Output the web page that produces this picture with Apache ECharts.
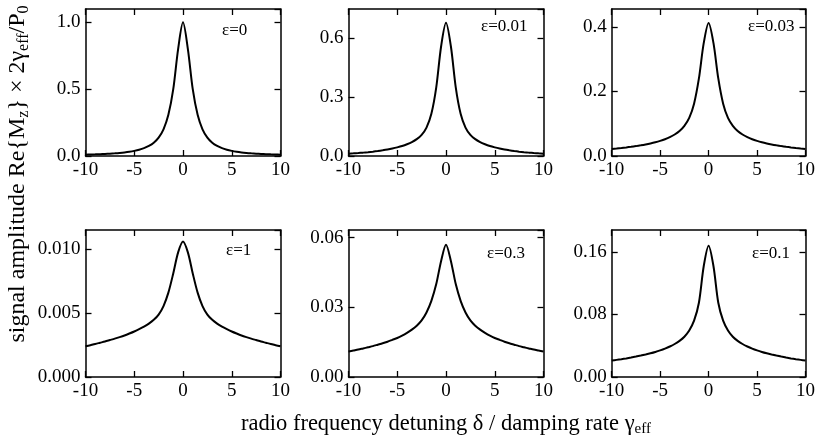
<!DOCTYPE html>
<html><head><meta charset="utf-8">
<script src="https://cdn.jsdelivr.net/npm/echarts@6/dist/echarts.min.js"></script>
<style>html,body{margin:0;padding:0;background:#fff}#c{width:818px;height:440px}</style>
</head><body><div id="c"></div>
<script>
// shared detuning values delta / gamma_eff (step 0.5)
const detuning = [-10,-9.5,-9,-8.5,-8,-7.5,-7,-6.5,-6,-5.5,-5,-4.5,-4,-3.5,-3,-2.5,-2,-1.5,-1,-0.5,0,
                  0.5,1,1.5,2,2.5,3,3.5,4,4.5,5,5.5,6,6.5,7,7.5,8,8.5,9,9.5,10];
const xTicks = [-10,-5,0,5,10];
// signal amplitude values, one array per epsilon
const eps0   = [0.0099,0.0110,0.0122,0.0137,0.0154,0.0175,0.0200,0.0231,0.0270,0.0320,0.0385,0.0470,0.0588,0.0755,0.1000,0.1380,0.2000,0.3080,0.5000,0.8000,1.0000,
                0.8000,0.5000,0.3080,0.2000,0.1380,0.1000,0.0755,0.0588,0.0470,0.0385,0.0320,0.0270,0.0231,0.0200,0.0175,0.0154,0.0137,0.0122,0.0110,0.0099];
const eps001 = [0.0120,0.0135,0.0152,0.0172,0.0195,0.0222,0.0253,0.0289,0.0330,0.0380,0.0440,0.0510,0.0600,0.0710,0.0860,0.1080,0.1450,0.2150,0.3500,0.5600,0.6800,
                0.5600,0.3500,0.2150,0.1450,0.1080,0.0860,0.0710,0.0600,0.0510,0.0440,0.0380,0.0330,0.0289,0.0253,0.0222,0.0195,0.0172,0.0152,0.0135,0.0120];
const eps003 = [0.0220,0.0234,0.0249,0.0266,0.0285,0.0306,0.0330,0.0357,0.0388,0.0424,0.0467,0.0518,0.0582,0.0665,0.0775,0.0935,0.1180,0.1620,0.2400,0.3500,0.4120,
                0.3500,0.2400,0.1620,0.1180,0.0935,0.0775,0.0665,0.0582,0.0518,0.0467,0.0424,0.0388,0.0357,0.0330,0.0306,0.0285,0.0266,0.0249,0.0234,0.0220];
const eps1   = [0.00240,0.00249,0.00258,0.00268,0.00278,0.00289,0.00300,0.00312,0.00325,0.00340,0.00356,0.00374,0.00394,0.00418,0.00447,0.00488,0.00555,0.00660,0.00810,0.00975,0.01060,
                0.00975,0.00810,0.00660,0.00555,0.00488,0.00447,0.00418,0.00394,0.00374,0.00356,0.00340,0.00325,0.00312,0.00300,0.00289,0.00278,0.00268,0.00258,0.00249,0.00240];
const eps03  = [0.0110,0.0114,0.0118,0.0123,0.0128,0.0133,0.0139,0.0145,0.0152,0.0160,0.0168,0.0178,0.0190,0.0204,0.0221,0.0244,0.0278,0.0328,0.0400,0.0500,0.0570,
                0.0500,0.0400,0.0328,0.0278,0.0244,0.0221,0.0204,0.0190,0.0178,0.0168,0.0160,0.0152,0.0145,0.0139,0.0133,0.0128,0.0123,0.0118,0.0114,0.0110];
const eps01  = [0.0210,0.0219,0.0228,0.0238,0.0249,0.0261,0.0274,0.0288,0.0303,0.0320,0.0340,0.0363,0.0390,0.0422,0.0462,0.0515,0.0595,0.0720,0.0950,0.1420,0.1680,
                0.1420,0.0950,0.0720,0.0595,0.0515,0.0462,0.0422,0.0390,0.0363,0.0340,0.0320,0.0303,0.0288,0.0274,0.0261,0.0249,0.0238,0.0228,0.0219,0.0210];
const panelLabels = ['ε=0','ε=0.01','ε=0.03','ε=1','ε=0.3','ε=0.1'];
const yMax      = [1.1, 0.75, 0.455, 0.0115, 0.0633, 0.188];
const yInterval = [0.5, 0.3, 0.2, 0.005, 0.03, 0.08];
const yDecimals = [1, 1, 1, 3, 2, 2];

const series6 = [eps0, eps001, eps003, eps1, eps03, eps01];
const FONT = '"Liberation Serif","Times New Roman",serif';

const grids = [
  {left:85.5, top:9,   width:195, height:147},
  {left:348.5,top:9,   width:195, height:147},
  {left:611.7,top:9,   width:198, height:147},
  {left:85.5, top:230, width:195, height:147},
  {left:348.5,top:230, width:195, height:147},
  {left:611.7,top:230, width:198, height:147}
];
const labelPos = [[222,31],[481,27],[748,27],[226,251],[487,254],[752,254]];

const axLine = {show:true, onZero:false, lineStyle:{color:'#000', width:1.5}};
const tick = {show:true, inside:true, length:6, lineStyle:{color:'#000', width:1.3}};
const xAxis = [], yAxis = [], series = [], graphic = [];
grids.forEach((g,i)=>{
  const xa = {type:'value', gridIndex:i, min:-10, max:10, interval:5,
    axisLine:axLine, splitLine:{show:false}, axisTick:tick};
  xAxis.push(Object.assign({}, xa, {position:'bottom',
    axisLabel:{show:true, color:'#000', fontFamily:FONT, fontSize:19, margin:5,
      formatter:v=>xTicks.includes(v)?String(v):''}}));
  xAxis.push(Object.assign({}, xa, {position:'top', axisLabel:{show:false}}));
  const d = yDecimals[i];
  const ya = {type:'value', gridIndex:i, min:0, max:yMax[i], interval:yInterval[i],
    axisLine:axLine, splitLine:{show:false}, axisTick:tick};
  yAxis.push(Object.assign({}, ya, {position:'left',
    axisLabel:{show:true, color:'#000', fontFamily:FONT, fontSize:19, margin:5,
      showMaxLabel:false, formatter:v=>v.toFixed(d)}}));
  yAxis.push(Object.assign({}, ya, {position:'right', axisLabel:{show:false}}));
  series.push({type:'line', xAxisIndex:2*i, yAxisIndex:2*i,
    data: detuning.map((x,k)=>[x, series6[i][k]]),
    showSymbol:false, smooth:0.3, silent:true,
    lineStyle:{color:'#000', width:2}});
  graphic.push({type:'text', x:labelPos[i][0], y:labelPos[i][1],
    style:{text:panelLabels[i], fill:'#000', font:'17px '+FONT, align:'left', verticalAlign:'middle'}});
});

graphic.push({type:'text', x:446, y:424,
  style:{text:'radio frequency detuning δ / damping rate γ{s|eff}', fill:'#000',
    fontFamily:FONT, fontSize:22.5, lineHeight:26, align:'center', verticalAlign:'middle',
    rich:{s:{fontFamily:FONT, fontSize:15, lineHeight:15, verticalAlign:'bottom', fill:'#000'}}}});
graphic.push({type:'text', x:18, y:174, rotation:Math.PI/2,
  style:{text:'signal amplitude Re{M{s|z}} × 2γ{s|eff}/P{s|0}', fill:'#000',
    fontFamily:FONT, fontSize:24, lineHeight:28, align:'center', verticalAlign:'middle',
    rich:{s:{fontFamily:FONT, fontSize:16, lineHeight:16, verticalAlign:'bottom', fill:'#000'}}}});

const chart = echarts.init(document.getElementById('c'), null, {renderer:'canvas'});
chart.setOption({animation:false, backgroundColor:'#fff', grid:grids, xAxis, yAxis, series, graphic});
</script></body></html>
